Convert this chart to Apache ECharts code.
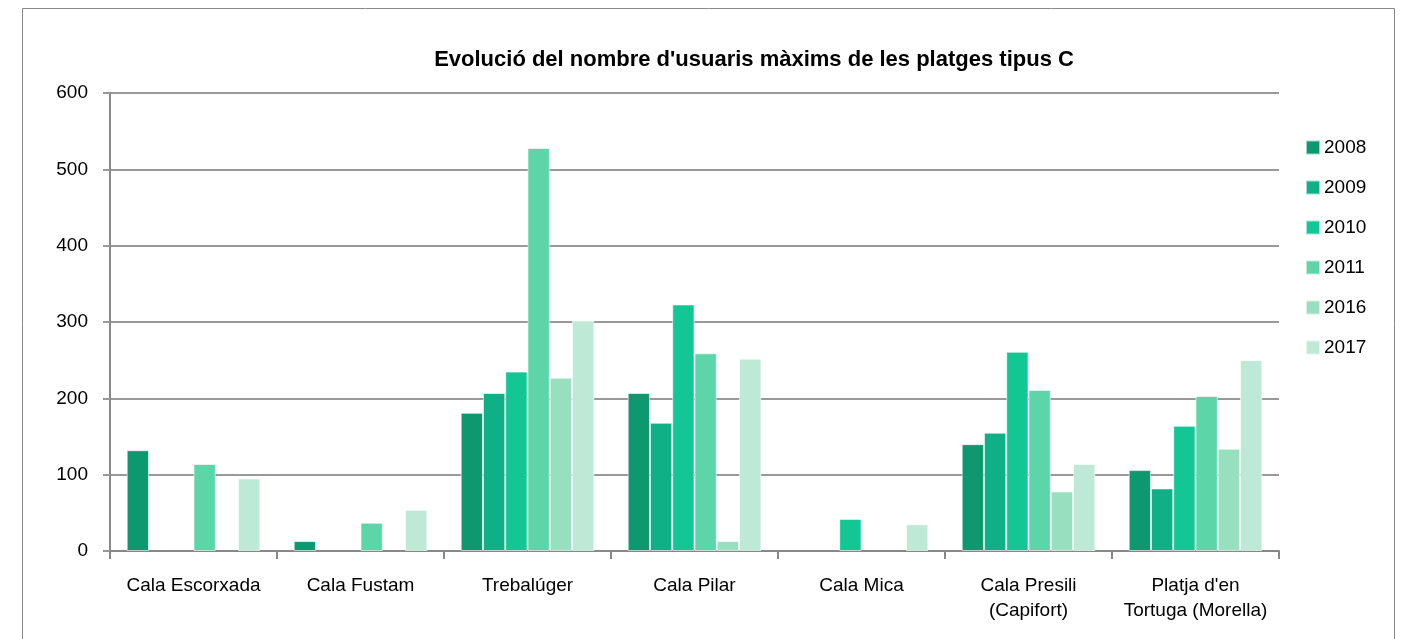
<!DOCTYPE html>
<html><head><meta charset="utf-8">
<script src="https://cdn.jsdelivr.net/npm/echarts@6/dist/echarts.min.js"></script>
<style>html,body{margin:0;padding:0;background:#fff}#c{width:1415px;height:639px}</style>
</head><body><div id="c"></div>
<script>
const categories = ['Cala Escorxada','Cala Fustam','Trebalúger','Cala Pilar','Cala Mica','Cala Presili\n(Capifort)',"Platja d'en\nTortuga (Morella)"];
const years = ['2008','2009','2010','2011','2016','2017'];
const s2008 = [132, 13, 181, 207, null, 140, 106];
const s2009 = [null, null, 207, 168, null, 155, 82];
const s2010 = [null, null, 235, 323, 42, 261, 164];
const s2011 = [114, 37, 528, 259, null, 211, 203];
const s2016 = [null, null, 227, 13, null, 78, 134];
const s2017 = [95, 54, 302, 252, 35, 114, 250];
const yTicks = [0,100,200,300,400,500,600];
const colors = ['#0d9870','#0fb085','#13c794','#5cd5a9','#97dfbf','#bde9d6'];
const seriesData = [s2008,s2009,s2010,s2011,s2016,s2017];
const font = 'Liberation Sans, Arial, sans-serif';
const chart = echarts.init(document.getElementById('c'));
chart.setOption({
  animation:false,
  color: colors,
  title:{text:"Evolució del nombre d'usuaris màxims de les platges tipus C",left:749,top:44,textAlign:'center',
    textStyle:{fontFamily:font,fontSize:22,fontWeight:'bold',color:'#000'}},
  graphic:[{type:'rect',shape:{x:22.5,y:8.5,width:1372,height:640},style:{fill:'none',stroke:'#888',lineWidth:1}}],
  legend:{orient:'vertical',left:1305,top:138,padding:0,itemWidth:14,itemHeight:14,itemGap:21,icon:'rect',
    textStyle:{fontFamily:font,fontSize:19,color:'#000',padding:[0,0,0,-1]},data:years},
  grid:{left:110,right:136,top:93,bottom:88,containLabel:false},
  xAxis:{type:'category',data:categories,
    axisLine:{lineStyle:{color:'#888',width:2}},
    axisTick:{show:true,length:8,lineStyle:{color:'#888',width:2}},
    axisLabel:{fontFamily:font,fontSize:19,color:'#000',margin:22,lineHeight:25,interval:0}},
  yAxis:{type:'value',min:yTicks[0],max:yTicks[yTicks.length-1],interval:100,
    axisLine:{show:true,lineStyle:{color:'#888',width:2}},
    axisTick:{show:true,length:7,lineStyle:{color:'#999',width:2}},
    splitLine:{lineStyle:{color:'#999',width:2}},
    axisLabel:{fontFamily:font,fontSize:19,color:'#000',margin:22}},
  series: years.map((y,i)=>({name:y,type:'bar',data:seriesData[i],barGap:'0%',barCategoryGap:'20%',
    itemStyle:{color:colors[i],borderColor:'rgba(255,255,255,0.6)',borderWidth:1}}))
});
</script></body></html>
